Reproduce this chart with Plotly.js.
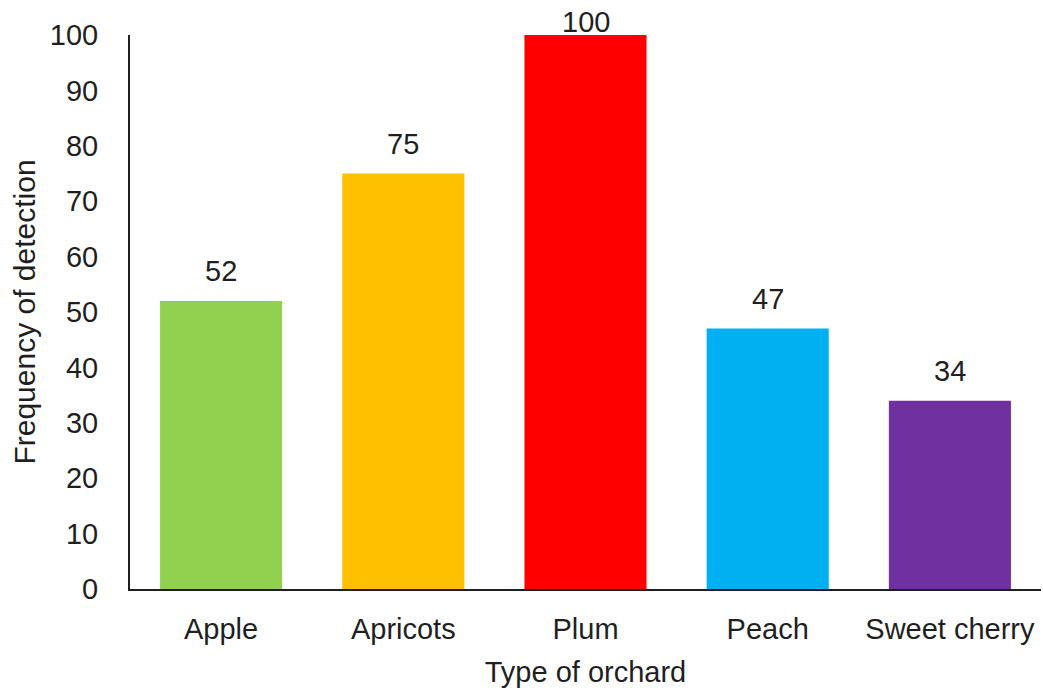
<!DOCTYPE html>
<html><head><meta charset="utf-8">
<script src="https://cdn.plot.ly/plotly-3.0.1.min.js"></script>
<style>html,body{margin:0;padding:0;background:#fff}</style>
</head><body>
<div id="chart" style="width:1043px;height:690px"></div>
<script>
const categories = ["Apple", "Apricots", "Plum", "Peach", "Sweet cherry"];
const values = [52, 75, 100, 47, 34];
const colors = ["#92D050", "#FFC000", "#FF0000", "#00B0F0", "#7030A0"];
const yTicks = [0, 10, 20, 30, 40, 50, 60, 70, 80, 90, 100];
const yMax = 100;

const font = {family: "Liberation Sans, Arial, sans-serif", size: 29, color: "#1f1f1f"};
const labels = categories.map((c, i) => ({
  x: c, y: values[i], xref: "x", yref: "y",
  text: String(values[i]), showarrow: false, yanchor: "bottom",
  yshift: values[i] >= yMax ? -5 : 12, font: font
}));
Plotly.newPlot("chart", [{
  type: "bar", x: categories, y: values,
  marker: {color: colors}, hoverinfo: "none"
}], {
  width: 1043, height: 690,
  margin: {l: 130, r: 2, t: 35, b: 101},
  paper_bgcolor: "#fff", plot_bgcolor: "#fff",
  bargap: 0.33, showlegend: false, font: font,
  annotations: labels,
  xaxis: {showline: true, linecolor: "#1f1f1f", linewidth: 2, ticks: "", tickfont: font,
    ticklabelstandoff: 13,
    title: {text: "Type of orchard", font: font, standoff: 18}},
  yaxis: {range: [0, yMax], tickvals: yTicks, showgrid: false, zeroline: false,
    showline: true, linecolor: "#1f1f1f", linewidth: 2, ticks: "", tickfont: font,
    ticklabelstandoff: 24,
    title: {text: "Frequency of detection", font: Object.assign({}, font, {size: 30}), standoff: 5}}
}, {displayModeBar: false});
</script>
</body></html>
